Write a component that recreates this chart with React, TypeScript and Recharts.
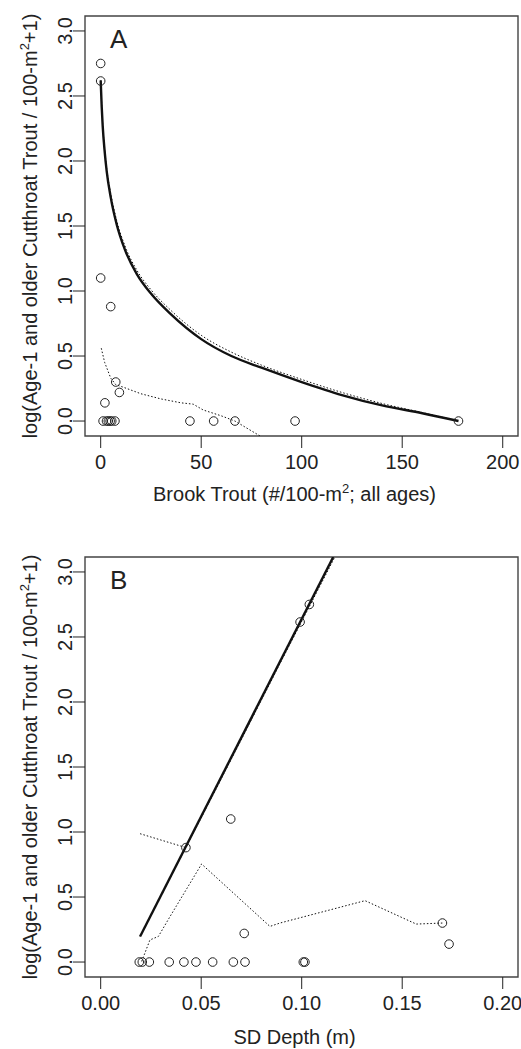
import React from 'react';
import { ComposedChart, Scatter, Line, XAxis, YAxis, ReferenceArea, Label } from 'recharts';

const FONT = '"Liberation Sans", Arial, Helvetica, sans-serif';
const INK = '#222';

// panel A: brook trout density (x) vs log cutthroat density (y)
const brookObs = [
  { x: 0, y: 2.75 }, { x: 0, y: 2.615 }, { x: 0, y: 1.1 }, { x: 5, y: 0.88 },
  { x: 7.5, y: 0.3 }, { x: 9.3, y: 0.22 }, { x: 2.1, y: 0.14 },
  { x: 1.2, y: 0 }, { x: 2.9, y: 0 }, { x: 3.8, y: 0 }, { x: 4.7, y: 0 },
  { x: 5.5, y: 0 }, { x: 7.1, y: 0 }, { x: 44.4, y: 0 }, { x: 56.2, y: 0 },
  { x: 66.8, y: 0 }, { x: 96.7, y: 0 }, { x: 178, y: 0 },
];
const brookFit = [
  { x: 0, y: 2.62 }, { x: 0.5, y: 2.42 }, { x: 1, y: 2.27 }, { x: 2, y: 2.07 },
  { x: 3, y: 1.92 }, { x: 5, y: 1.72 }, { x: 8, y: 1.51 }, { x: 12, y: 1.32 },
  { x: 18, y: 1.13 }, { x: 25, y: 0.98 }, { x: 35, y: 0.82 }, { x: 50, y: 0.63 },
  { x: 65, y: 0.5 }, { x: 80, y: 0.41 }, { x: 100, y: 0.3 }, { x: 120, y: 0.2 },
  { x: 140, y: 0.12 }, { x: 160, y: 0.06 }, { x: 178, y: 0 },
];
const brookFitAlt = [
  { x: 0, y: 2.62 }, { x: 1, y: 2.28 }, { x: 2, y: 2.09 }, { x: 3, y: 1.94 },
  { x: 5, y: 1.75 }, { x: 8, y: 1.54 }, { x: 12, y: 1.35 }, { x: 18, y: 1.16 },
  { x: 25, y: 1.01 }, { x: 35, y: 0.85 }, { x: 50, y: 0.66 }, { x: 65, y: 0.53 },
  { x: 80, y: 0.43 }, { x: 100, y: 0.32 }, { x: 120, y: 0.22 }, { x: 140, y: 0.135 },
  { x: 160, y: 0.065 }, { x: 178, y: 0 },
];
const brookSmooth = [
  { x: 0.3, y: 0.56 }, { x: 2, y: 0.45 }, { x: 5, y: 0.33 }, { x: 7.5, y: 0.28 },
  { x: 11.3, y: 0.26 }, { x: 20, y: 0.21 }, { x: 30, y: 0.17 }, { x: 40, y: 0.14 },
  { x: 46, y: 0.13 }, { x: 51, y: 0.085 }, { x: 60, y: 0.04 }, { x: 66.8, y: 0 },
  { x: 79.3, y: -0.115 },
];

// panel B: SD depth (x) vs log cutthroat density (y)
const depthObs = [
  { x: 0.1038, y: 2.75 }, { x: 0.0992, y: 2.615 }, { x: 0.0647, y: 1.1 },
  { x: 0.0424, y: 0.88 }, { x: 0.17, y: 0.3 }, { x: 0.0714, y: 0.22 },
  { x: 0.1733, y: 0.138 }, { x: 0.0192, y: 0 }, { x: 0.0207, y: 0 },
  { x: 0.0242, y: 0 }, { x: 0.0341, y: 0 }, { x: 0.0414, y: 0 },
  { x: 0.0474, y: 0 }, { x: 0.0557, y: 0 }, { x: 0.066, y: 0 },
  { x: 0.0718, y: 0 }, { x: 0.1008, y: 0 }, { x: 0.1016, y: 0 },
];
const depthFit = [{ x: 0.0196, y: 0.197 }, { x: 0.1157, y: 3.115 }];
const depthFitAlt = [
  { x: 0.0196, y: 0.197 }, { x: 0.06, y: 1.41 }, { x: 0.09, y: 2.32 }, { x: 0.1165, y: 3.115 },
];
const depthSmooth = [
  { x: 0.0204, y: 0.005 }, { x: 0.0245, y: 0.17 }, { x: 0.0287, y: 0.197 },
  { x: 0.0345, y: 0.35 }, { x: 0.0502, y: 0.754 }, { x: 0.0842, y: 0.274 },
  { x: 0.0892, y: 0.3 }, { x: 0.1315, y: 0.472 }, { x: 0.157, y: 0.292 },
  { x: 0.17, y: 0.3 },
];
const depthSegment = [{ x: 0.0196, y: 0.987 }, { x: 0.0424, y: 0.88 }];

const brookTicks = [0, 50, 100, 150, 200];
const depthTicks = [0, 0.05, 0.1, 0.15, 0.2];
const yTicks = [0, 0.5, 1, 1.5, 2, 2.5, 3];

const FS = 20;

const Ring = (props: any) => (
  <circle cx={props.cx} cy={props.cy} r={4.3} fill="none" stroke={INK} strokeWidth={1} />
);

const XTick = (fmt: (v: number) => string) => (props: any) => (
  <text x={props.x} y={props.y} dy={21} textAnchor="middle" fontFamily={FONT} fontSize={FS} fill={INK}>
    {fmt(props.payload.value)}
  </text>
);

const YTick = (props: any) => (
  <text
    x={props.x}
    y={props.y}
    transform={`rotate(-90 ${props.x} ${props.y})`}
    textAnchor="middle"
    fontFamily={FONT}
    fontSize={FS}
    fill={INK}
  >
    {props.payload.value.toFixed(1)}
  </text>
);

const YTitle = (props: any) => {
  const { y, height } = props.viewBox;
  const cx = 30;
  const cy = y + height / 2;
  return (
    <text x={cx} y={cy} dy={7} transform={`rotate(-90 ${cx} ${cy})`} textAnchor="middle" fontFamily={FONT} fontSize={FS} fill={INK}>
      log(Age-1 and older Cutthroat Trout / 100-m
      <tspan dy={-8} fontSize={13}>2</tspan>
      <tspan dy={8}>+1)</tspan>
    </text>
  );
};

interface PanelProps {
  letter: string;
  height: number;
  top: number;
  xDomain: [number, number];
  xTicks: number[];
  fmt: (v: number) => string;
  xTitle: React.ReactNode;
  titleOffset: number;
  obs: { x: number; y: number }[];
  fit: { x: number; y: number }[];
  fitAlt: { x: number; y: number }[];
  smooth: { x: number; y: number }[];
  extra?: { x: number; y: number }[];
  curve: 'monotone' | 'linear';
}

const Panel = (p: PanelProps) => {
  const xAxisH = p.height - p.top - 420;
  return (
    <ComposedChart width={521} height={p.height} margin={{ top: p.top, right: 3, bottom: 0, left: 0 }}>
      <XAxis
        type="number"
        dataKey="x"
        domain={p.xDomain}
        allowDataOverflow
        ticks={p.xTicks}
        tick={XTick(p.fmt)}
        tickSize={12}
        tickMargin={0}
        tickLine={{ stroke: INK, strokeWidth: 1 }}
        axisLine={false}
        height={xAxisH}
        interval={0}
      >
        <Label
          content={(lp: any) => (
            <text
              x={lp.viewBox.x + lp.viewBox.width / 2 - 7}
              y={lp.viewBox.y + p.titleOffset}
              textAnchor="middle"
              fontFamily={FONT}
              fontSize={FS}
              fill={INK}
            >
              {p.xTitle}
            </text>
          )}
        />
      </XAxis>
      <YAxis
        type="number"
        dataKey="y"
        domain={[-0.115, 3.115]}
        allowDataOverflow
        ticks={yTicks}
        tick={YTick}
        tickSize={12}
        tickMargin={1}
        tickLine={{ stroke: INK, strokeWidth: 1 }}
        axisLine={false}
        width={85}
        interval={0}
      >
        <Label content={YTitle} />
      </YAxis>
      <ReferenceArea
        x1={p.xDomain[0]}
        x2={p.xDomain[1]}
        y1={-0.115}
        y2={3.115}
        fill="none"
        stroke="#444"
        strokeWidth={1.4}
        ifOverflow="visible"
      >
        <Label
          content={(lp: any) => (
            <text x={lp.viewBox.x + 25} y={lp.viewBox.y + 32} fontFamily={FONT} fontSize={26} fill={INK}>
              {p.letter}
            </text>
          )}
        />
      </ReferenceArea>
      <Line data={p.fitAlt} dataKey="y" type={p.curve} stroke="#111" strokeWidth={1} strokeDasharray="1.5 2" dot={false} isAnimationActive={false} />
      <Line data={p.smooth} dataKey="y" type="linear" stroke="#111" strokeWidth={1} strokeDasharray="1.5 2" dot={false} isAnimationActive={false} />
      {p.extra && (
        <Line data={p.extra} dataKey="y" type="linear" stroke="#111" strokeWidth={1} strokeDasharray="1.5 2" dot={false} isAnimationActive={false} />
      )}
      <Line data={p.fit} dataKey="y" type={p.curve} stroke="#111" strokeWidth={2.4} dot={false} isAnimationActive={false} />
      <Scatter data={p.obs} shape={Ring} isAnimationActive={false} />
    </ComposedChart>
  );
};

export default function App() {
  return (
    <div style={{ position: 'absolute', left: 0, top: 0, width: 521, height: 1049, background: '#fff' }}>
      <Panel
        letter="A"
        height={520}
        top={16}
        xDomain={[-7.8, 207.6]}
        xTicks={brookTicks}
        fmt={(v) => String(v)}
        xTitle={
          <>
            Brook Trout (#/100-m<tspan dy={-8} fontSize={13}>2</tspan>
            <tspan dy={8}>; all ages)</tspan>
          </>
        }
        titleOffset={65}
        obs={brookObs}
        fit={brookFit}
        fitAlt={brookFitAlt}
        smooth={brookSmooth}
        curve="monotone"
      />
      <div style={{ position: 'absolute', left: 0, top: 520 }}>
        <Panel
          letter="B"
          height={529}
          top={37}
          xDomain={[-0.0078, 0.2076]}
          xTicks={depthTicks}
          fmt={(v) => v.toFixed(2)}
          xTitle="SD Depth (m)"
          titleOffset={67}
          obs={depthObs}
          fit={depthFit}
          fitAlt={depthFitAlt}
          smooth={depthSmooth}
          extra={depthSegment}
          curve="linear"
        />
      </div>
    </div>
  );
}
